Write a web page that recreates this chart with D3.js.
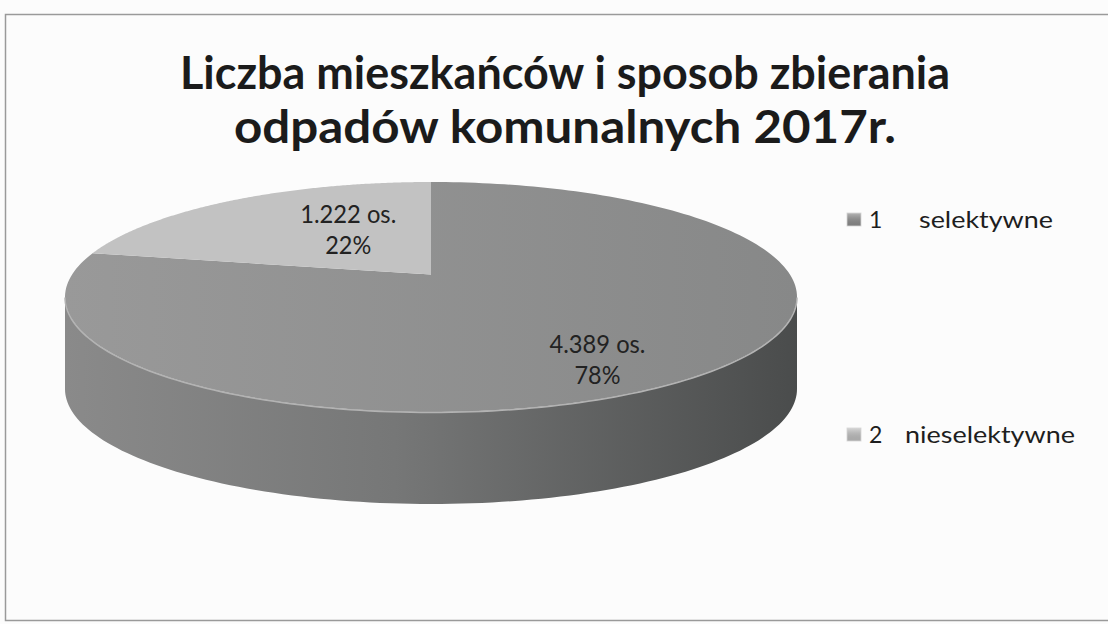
<!DOCTYPE html>
<html>
<head>
<meta charset="utf-8">
<title>Liczba mieszkańców 2017</title>
<script src="https://d3js.org/d3.v7.min.js"></script>
<style>
  body { margin: 0; background: #fff; }
  svg { display: block; font-family: Lato, "Open Sans", sans-serif; }
</style>
</head>
<body>
<svg id="chart" width="1108" height="624"></svg>
<script>
// data
var categories = ["1", "2"];
var names = ["selektywne", "nieselektywne"];
var values = [4389, 1222];
var titleLines = ["Liczba mieszkańców i sposob zbierania", "odpadów komunalnych 2017r."];

var svg = d3.select("#chart");
var defs = svg.append("defs");

// page + frame
svg.append("rect").attr("width", 1108).attr("height", 624).attr("fill", "#fcfcfc");
svg.append("rect")
    .attr("x", 5.5).attr("y", 14.5).attr("width", 1110).attr("height", 606)
    .attr("fill", "none").attr("stroke", "#9a9a9a").attr("stroke-width", 1.5);

// title
svg.append("g").selectAll("text")
    .data(titleLines)
    .enter().append("text")
    .attr("x", 565)
    .attr("y", function(d, i) { return 89 + i * 54; })
    .attr("text-anchor", "middle")
    .attr("font-size", 45)
    .attr("font-weight", "bold")
    .attr("fill", "#1b1b1b")
    .attr("textLength", function(d, i) { return i == 0 ? 770 : 662; })
    .attr("lengthAdjust", "spacingAndGlyphs")
    .text(function(d) { return d; });

// 3D pie: top face is an ellipse seen in perspective (center pushed back)
var cx = 431, cy = 297, rx = 366, ry = 115, depth = 92;
var back = -0.195;                       // where the pie center lands inside the ellipse
var ch = 1 / Math.sqrt(1 - back * back), sh = back * ch;

function proj(a, r, dy) {
    var u = r * Math.sin(a), v = -r * Math.cos(a);
    var den = sh * v + ch;
    return [cx + rx * u / den, cy + ry * (ch * v + sh) / den + (dy || 0)];
}

var pie = d3.pie().sort(null).value(function(d) { return d; });
var arcs = pie(values);
var total = d3.sum(values);

var topColors = d3.scaleOrdinal().domain(categories).range(["#8f8f8f", "#c2c2c2"]);
var line = d3.line();

// side gradient (lighter left, dark right)
var sg = defs.append("linearGradient").attr("id", "side")
    .attr("gradientUnits", "userSpaceOnUse")
    .attr("x1", cx - rx).attr("x2", cx + rx).attr("y1", 0).attr("y2", 0);
sg.append("stop").attr("offset", "0").attr("stop-color", "#8a8a8a");
sg.append("stop").attr("offset", "0.45").attr("stop-color", "#767777");
sg.append("stop").attr("offset", "1").attr("stop-color", "#4a4c4c");

var tg = defs.append("linearGradient").attr("id", "top1")
    .attr("gradientUnits", "userSpaceOnUse")
    .attr("x1", cx - rx).attr("x2", cx + rx).attr("y1", 0).attr("y2", 0);
tg.append("stop").attr("offset", "0").attr("stop-color", "#999999");
tg.append("stop").attr("offset", "1").attr("stop-color", "#878888");

var lg = defs.append("linearGradient").attr("id", "mark")
    .attr("x1", 0).attr("x2", 0).attr("y1", 0).attr("y2", 1);
lg.append("stop").attr("offset", "0").attr("stop-color", "#fff").attr("stop-opacity", 0.35);
lg.append("stop").attr("offset", "1").attr("stop-color", "#000").attr("stop-opacity", 0.12);

// front side walls: visible pie angles lie between a1 and a2
var a1 = Math.acos(back), a2 = 2 * Math.PI - a1;
var gSide = svg.append("g");
arcs.forEach(function(d) {
    var s = Math.max(d.startAngle, a1), e = Math.min(d.endAngle, a2);
    if (e <= s) return;
    var n = 120;
    var angs = d3.range(n + 1).map(function(k) { return s + (e - s) * k / n; });
    var pts = angs.map(function(a) { return proj(a, 1, 0); })
        .concat(angs.slice().reverse().map(function(a) { return proj(a, 1, depth); }));
    gSide.append("path")
        .attr("d", line(pts) + "Z")
        .attr("fill", d.index == 0 ? "url(#side)" : "#a9a9a9");
});

// top faces
var gTop = svg.append("g");
gTop.selectAll("path")
    .data(arcs)
    .enter().append("path")
    .attr("d", function(d) {
        var n = 200;
        var pts = [proj(0, 0, 0)];
        d3.range(n + 1).forEach(function(k) {
            pts.push(proj(d.startAngle + (d.endAngle - d.startAngle) * k / n, 1, 0));
        });
        return line(pts) + "Z";
    })
    .attr("fill", function(d) { return d.index == 0 ? "url(#top1)" : topColors(categories[d.index]); });

// light rim along front edge
var rimAngs = d3.range(121).map(function(k) { return a1 + (a2 - a1) * k / 120; });
svg.append("path")
    .attr("d", line(rimAngs.map(function(a) { return proj(a, 1, 0.5); })))
    .attr("fill", "none").attr("stroke", "#b3b3b3").attr("stroke-width", 1.5);

// data labels
var fmt = d3.formatLocale({ decimal: ",", thousands: ".", grouping: [3], currency: ["", ""] }).format(",");
var pct = d3.format(".0%");
var gLab = svg.append("g").attr("font-size", 25).attr("fill", "#222").attr("text-anchor", "middle");
arcs.forEach(function(d) {
    var big = d.endAngle - d.startAngle > Math.PI;
    var mid = (d.startAngle + d.endAngle) / 2 + 0.15;
    var p = proj(mid, big ? 0.79 : 0.49, 0);
    gLab.append("text").attr("x", p[0]).attr("y", p[1] - 8)
        .attr("textLength", 96).attr("lengthAdjust", "spacingAndGlyphs")
        .text(fmt(d.value) + " os.");
    gLab.append("text").attr("x", p[0]).attr("y", p[1] + 23)
        .attr("textLength", 46).attr("lengthAdjust", "spacingAndGlyphs")
        .text(pct(d.value / total));
});

// legend
var ly = d3.scalePoint().domain(categories).range([220, 435]);
var nameX = [919, 905];
var nameW = [134, 170];
var gLeg = svg.append("g").attr("font-size", 23).attr("fill", "#1e1e1e");
categories.forEach(function(c, i) {
    var y = ly(c);
    gLeg.append("rect").attr("x", 847).attr("y", y - 7).attr("width", 14).attr("height", 13)
        .attr("fill", topColors(c));
    gLeg.append("rect").attr("x", 847).attr("y", y - 7).attr("width", 14).attr("height", 13)
        .attr("fill", "url(#mark)").attr("stroke", "#d4d4d4").attr("stroke-width", 0.8);
    gLeg.append("text").attr("x", 869).attr("y", y + 8).text(c);
    gLeg.append("text").attr("x", nameX[i]).attr("y", y + 8)
        .attr("textLength", nameW[i]).attr("lengthAdjust", "spacingAndGlyphs").text(names[i]);
});
</script>
</body>
</html>
